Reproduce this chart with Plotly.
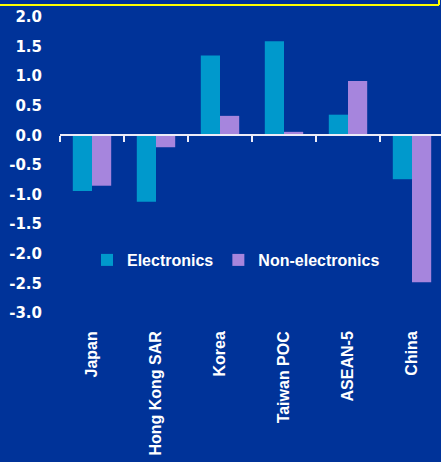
import plotly.graph_objects as go

# Contribution by economy, percentage points
economies = ["Japan", "Hong Kong SAR", "Korea", "Taiwan POC", "ASEAN-5", "China"]
electronics = [-0.94, -1.12, 1.35, 1.59, 0.35, -0.74]
non_electronics = [-0.85, -0.20, 0.33, 0.06, 0.92, -2.48]

y_ticks = [2.0, 1.5, 1.0, 0.5, 0.0, -0.5, -1.0, -1.5, -2.0, -2.5, -3.0]
y_tick_text = [f"{v:.1f}" for v in y_ticks]

BG = "#003399"
ELEC = "#0099CC"
NONELEC = "#A685DD"
AXIS = "#ECECF8"

W, H = 441, 462
ML, MR, MT, MB = 60, 0, 17, 149
plot_w = W - ML - MR
plot_h = H - MT - MB
cat_px = 64.0  # width of one category slot
x_range = [-0.5, -0.5 + plot_w / cat_px]
y_range = [-3.0, 2.0]
zero_frac = (0 - y_range[0]) / (y_range[1] - y_range[0])

label_font = dict(family="Liberation Sans", size=16, color="white", weight="bold")

fig = go.Figure()
fig.add_trace(go.Bar(name="Electronics", x=economies, y=electronics,
                     marker=dict(color=ELEC, line=dict(width=0))))
fig.add_trace(go.Bar(name="Non-electronics", x=economies, y=non_electronics,
                     marker=dict(color=NONELEC, line=dict(width=0))))
# Invisible carrier for the axis drawn through zero
fig.add_trace(go.Scatter(x=economies, y=[0] * len(economies), xaxis="x2",
                         mode="markers", marker=dict(opacity=0),
                         showlegend=False, hoverinfo="skip"))

fig.update_layout(
    width=W, height=H,
    margin=dict(l=ML, r=MR, t=MT, b=MB, pad=0),
    paper_bgcolor=BG, plot_bgcolor=BG,
    barmode="group", bargap=0.40, bargroupgap=0.0,
    font=label_font,
    showlegend=True,
    legend=dict(orientation="h", x=(236 - ML) / plot_w, xanchor="center",
                y=(H - MB - 260) / plot_h, yanchor="middle",
                bgcolor="rgba(0,0,0,0)", font=label_font,
                itemwidth=30, tracegroupgap=0),
    xaxis=dict(range=x_range, showgrid=False, zeroline=False, showline=False,
               ticks="", tickangle=-90, ticklabelstandoff=14,
               tickfont=label_font),
    xaxis2=dict(overlaying="x", matches="x", anchor="free", position=zero_frac,
                side="bottom", showgrid=False, zeroline=False,
                showline=True, linecolor=AXIS, linewidth=2,
                ticks="outside", tickson="boundaries", ticklen=6,
                tickwidth=2, tickcolor=AXIS, showticklabels=False),
    yaxis=dict(range=y_range, showgrid=False, zeroline=False, showline=False,
               tickvals=y_ticks, ticktext=y_tick_text, ticks="",
               ticklabelstandoff=17,
               tickfont=dict(family="DejaVu Sans", size=15, color="white",
                             weight="bold")),
    shapes=[
        dict(type="line", xref="paper", yref="paper",
             x0=(0 - ML) / plot_w, x1=(439 - ML) / plot_w,
             y0=(H - MB - 5) / plot_h, y1=(H - MB - 5) / plot_h,
             line=dict(color="#FFFF00", width=2)),
        dict(type="line", xref="paper", yref="paper",
             x0=(439 - ML) / plot_w, x1=(439 - ML) / plot_w,
             y0=(H - MB - 5) / plot_h, y1=(H - MB + 2) / plot_h,
             line=dict(color="#FFFF00", width=2)),
    ],
)

fig.write_html("out.html")
